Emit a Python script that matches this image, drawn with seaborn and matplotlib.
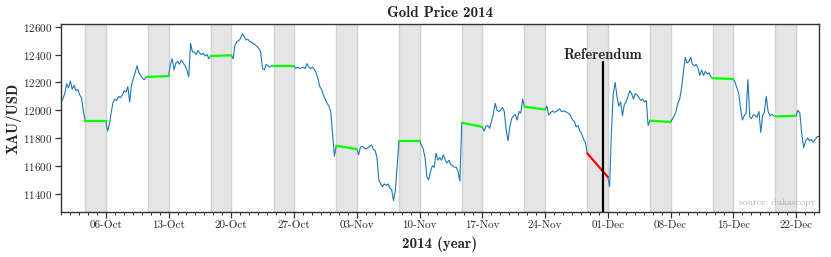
import matplotlib
matplotlib.use('Agg')
import matplotlib.pyplot as plt
import matplotlib.dates as mdates
import seaborn as sns
import pandas as pd

# -------------------------------
# XAU/USD (one list per trading week)
# -------------------------------

week_starts = ['2014-10-01 00:00', '2014-10-06 00:00', '2014-10-13 00:00',
               '2014-10-20 00:00', '2014-10-27 00:00', '2014-11-03 00:00',
               '2014-11-10 00:00', '2014-11-17 00:00', '2014-11-24 00:00',
               '2014-12-01 00:00', '2014-12-08 00:00', '2014-12-15 00:00',
               '2014-12-22 00:00']
week_ends = ['2014-10-03 17:00', '2014-10-10 17:00', '2014-10-17 17:00',
             '2014-10-24 17:00', '2014-10-31 17:00', '2014-11-07 17:00',
             '2014-11-14 17:00', '2014-11-21 17:00', '2014-11-28 17:00',
             '2014-12-05 17:00', '2014-12-12 17:00', '2014-12-19 17:00',
             '2014-12-24 13:40']

wk00 = [12060, 12080, 12120, 12190, 12160, 12210, 12150, 12180, 12140, 12150,
        12110, 12090, 11990, 11920]
wk01 = [11920, 11850, 11900, 11990, 12060, 12080, 12070, 12100, 12090, 12110,
        12140, 12130, 12170, 12060, 12180, 12230, 12270, 12320, 12270, 12250,
        12230, 12220, 12240, 12240]
wk02 = [12245, 12330, 12370, 12290, 12340, 12350, 12330, 12360, 12340, 12320,
        12290, 12240, 12480, 12420, 12420, 12400, 12430, 12410, 12400, 12410,
        12390, 12400, 12370, 12390]
wk03 = [12395, 12370, 12470, 12490, 12500, 12515, 12550, 12530, 12505, 12510,
        12495, 12490, 12480, 12470, 12460, 12445, 12420, 12300, 12290, 12330,
        12320, 12310, 12320, 12315]
wk04 = [12315, 12300, 12310, 12300, 12305, 12310, 12300, 12335, 12310, 12300,
        12310, 12295, 12270, 12230, 12170, 12150, 12110, 12080, 12050, 12030,
        11990, 11830, 11670, 11745]
wk05 = [11720, 11680, 11735, 11740, 11730, 11720, 11730, 11740, 11750, 11720,
        11710, 11660, 11500, 11470, 11450, 11470, 11460, 11470, 11440, 11430,
        11350, 11420, 11600, 11780]
wk06 = [11780, 11750, 11720, 11660, 11520, 11500, 11560, 11600, 11590, 11690,
        11640, 11660, 11640, 11680, 11640, 11620, 11640, 11610, 11600, 11590,
        11590, 11560, 11490, 11910]
wk07 = [11880, 11850, 11885, 11890, 11870, 11920, 11970, 12050, 12000, 11990,
        12000, 12020, 11990, 11860, 11780, 11880, 11940, 11960, 11970, 11930,
        11990, 11980, 12080, 12025]
wk08 = [12005, 12030, 11965, 11980, 11995, 11985, 11990, 12000, 12010, 11990,
        11995, 11990, 11985, 11975, 11960, 11930, 11920, 11880, 11890, 11850,
        11830, 11790, 11770, 11690]
wk09 = [11520, 11450, 11850, 12120, 12200, 12100, 12030, 12060, 11960, 12040,
        12060, 12100, 12140, 12120, 12080, 12120, 12110, 12090, 12070, 12080,
        12060, 12070, 11890, 11925]
wk10 = [11915, 11935, 11960, 11990, 12050, 12080, 12160, 12270, 12380, 12340,
        12350, 12380, 12330, 12320, 12330, 12300, 12250, 12290, 12250, 12280,
        12260, 12270, 12240, 12230]
wk11 = [12225, 12200, 12160, 12120, 12010, 11930, 11960, 11980, 12220, 11950,
        11940, 11970, 11960, 11950, 11990, 11840, 11960, 11990, 12100, 11990,
        11960, 11970, 11960, 11955]
wk12 = [11960, 12000, 11980, 11830, 11730, 11780, 11800, 11780, 11790, 11770,
        11790, 11810, 11810]

weeks = [wk00, wk01, wk02, wk03, wk04, wk05, wk06, wk07, wk08, wk09, wk10,
         wk11, wk12]
referendum_weekend = 8          # Fri 28-Nov -> Mon 01-Dec
referendum_day = '2014-11-30 12:00'

frames = []
for i, vals in enumerate(weeks):
    t = pd.date_range(week_starts[i], week_ends[i], periods=len(vals))
    frames.append(pd.DataFrame({'time': t, 'price': vals, 'week': i}))
gold = pd.concat(frames, ignore_index=True)

# -------------------------------
# PLOT
# -------------------------------

sns.set_theme(style='ticks')
plt.rcParams['font.family'] = ['cmr10', 'DejaVu Serif']
plt.rcParams['axes.formatter.use_mathtext'] = True
plt.rcParams['axes.edgecolor'] = '#333333'
plt.rcParams['axes.linewidth'] = 1.0
bold = ['cmb10', 'DejaVu Serif']

fig = plt.figure(figsize=(8.31, 2.57), dpi=100)
ax = fig.add_axes([0.0734, 0.1751, 0.9122, 0.7315])

# weekends
for i in range(len(weeks) - 1):
    fri = pd.Timestamp(week_ends[i])
    mon = pd.Timestamp(week_starts[i + 1])
    ax.axvspan(fri, mon, facecolor='#e5e5e5', edgecolor='#d2d2d2',
               lw=1, zorder=0)

sns.lineplot(data=gold, x='time', y='price', units='week', estimator=None,
             color='#1f77b4', lw=0.8, ax=ax, zorder=2)

for i in range(len(weeks) - 1):
    col = '#ff0000' if i == referendum_weekend else '#00ff00'
    ax.plot([pd.Timestamp(week_ends[i]), pd.Timestamp(week_starts[i + 1])],
            [weeks[i][-1], weeks[i + 1][0]], color=col, lw=1.6, zorder=3)

ref = pd.Timestamp(referendum_day)
ax.axvline(ref, ymin=0, ymax=0.80, color='black', lw=1.6, zorder=4)
ax.text(ref, 12400, 'Referendum', ha='center', va='center',
        fontsize=10.5, family=bold)

ax.text(0.995, 0.05, 'source: dukascopy', transform=ax.transAxes,
        ha='right', va='center', fontsize=7, color='#b0b0b0')

ax.set_xlim(gold['time'].min(), gold['time'].max())
ax.set_ylim(11268, 12620)
ax.set_yticks([11400, 11600, 11800, 12000, 12200, 12400, 12600])

ax.xaxis.set_major_locator(mdates.WeekdayLocator(byweekday=mdates.MO))
ax.xaxis.set_minor_locator(mdates.DayLocator())
ax.xaxis.set_major_formatter(mdates.DateFormatter('%d-%b'))
ax.tick_params(axis='both', which='major', labelsize=8, length=4,
               width=0.9, color='#333333', pad=2)
ax.tick_params(axis='x', which='minor', length=2, width=0.7,
               color='#333333')

ax.set_title('Gold Price 2014', fontsize=10.8, family=bold, pad=5)
ax.set_xlabel('2014 (year)', fontsize=10.8, family=bold)
ax.set_ylabel('XAU/USD', fontsize=10.5, family=bold)
ax.yaxis.set_label_coords(-0.052, 0.5)
ax.xaxis.set_label_coords(0.5, -0.13)

for s in ax.spines.values():
    s.set_visible(True)

fig.savefig('out.png', dpi=100)
